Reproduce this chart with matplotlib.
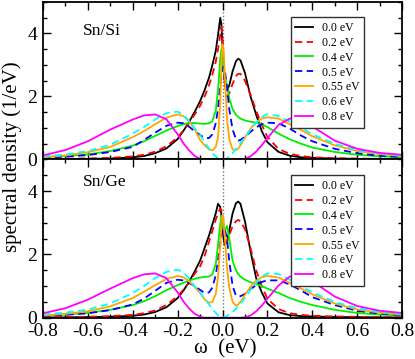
import matplotlib
matplotlib.use("Agg")
import matplotlib.pyplot as plt
from matplotlib.ticker import MultipleLocator

plt.rcParams['font.family'] = ['Liberation Serif', 'DejaVu Serif']
plt.rcParams['axes.unicode_minus'] = False

# shared energy grid (eV)
omega = [-0.8, -0.7, -0.6, -0.5, -0.4, -0.35, -0.3, -0.25, -0.2, -0.175, -0.15, -0.125,
         -0.1, -0.08, -0.06, -0.045, -0.03, -0.02, -0.01, -0.005, 0.0, 0.005, 0.01, 0.02,
         0.03, 0.045, 0.06, 0.07, 0.08, 0.1, 0.125, 0.15, 0.175, 0.2, 0.25, 0.3, 0.35,
         0.4, 0.5, 0.6, 0.7, 0.8]

labels = ["0.0 eV", "0.2 eV", "0.4 eV", "0.5 eV", "0.55 eV", "0.6 eV", "0.8 eV"]

# Sn/Si panel
si_00 = [0.01, 0.015, 0.02, 0.03, 0.07, 0.11, 0.2, 0.35, 0.65, 0.9, 1.18, 1.5,
         1.85, 2.2, 2.6, 3.0, 3.45, 3.95, 4.5, 4.3, 3.6, 2.9, 2.45, 2.2,
         2.35, 2.8, 3.12, 3.2, 3.15, 2.75, 2.0, 1.42, 0.9, 0.55, 0.24, 0.12, 0.07,
         0.05, 0.03, 0.02, 0.015, 0.01]
si_02 = [0.02, 0.025, 0.035, 0.05, 0.1, 0.15, 0.25, 0.42, 0.7, 0.92, 1.15, 1.42,
         1.7, 2.0, 2.35, 2.7, 3.1, 3.5, 3.95, 4.2, 3.9, 3.0, 2.4, 2.0,
         2.1, 2.4, 2.65, 2.72, 2.72, 2.5, 2.05, 1.55, 1.1, 0.72, 0.33, 0.18, 0.11,
         0.07, 0.04, 0.03, 0.02, 0.015]
si_04 = [0.08, 0.11, 0.16, 0.27, 0.44, 0.58, 0.75, 0.92, 1.06, 1.12, 1.15, 1.16,
         1.14, 1.13, 1.15, 1.22, 1.55, 2.2, 3.2, 3.5, 3.2, 2.8, 2.65, 2.35,
         1.95, 1.6, 1.42, 1.35, 1.3, 1.24, 1.2, 1.17, 1.12, 1.03, 0.82, 0.64, 0.5,
         0.38, 0.24, 0.15, 0.1, 0.07]
si_05 = [0.06, 0.09, 0.14, 0.24, 0.4, 0.62, 0.85, 1.07, 1.17, 1.15, 1.05, 0.9,
         0.78, 0.68, 0.68, 0.8, 1.15, 1.6, 2.3, 2.7, 2.9, 2.95, 2.85, 2.3,
         1.6, 0.95, 0.65, 0.6, 0.62, 0.72, 0.88, 1.02, 1.12, 1.17, 1.15, 0.98, 0.76,
         0.58, 0.34, 0.2, 0.12, 0.08]
si_055 = [0.07, 0.13, 0.23, 0.4, 0.71, 0.9, 1.12, 1.33, 1.43, 1.38, 1.22, 0.98,
          0.62, 0.45, 0.32, 0.29, 0.4, 0.7, 1.8, 3.0, 3.65, 3.5, 2.7, 1.3,
          0.65, 0.32, 0.3, 0.35, 0.45, 0.7, 0.98, 1.18, 1.3, 1.34, 1.3, 1.12, 0.94,
          0.74, 0.45, 0.27, 0.17, 0.11]
si_06 = [0.1, 0.16, 0.27, 0.47, 0.82, 1.03, 1.27, 1.47, 1.52, 1.42, 1.22, 1.0,
         0.78, 0.55, 0.35, 0.2, 0.1, 0.04, 0.01, 0.0, 0.0, 0.0, 0.01, 0.04,
         0.1, 0.2, 0.33, 0.42, 0.52, 0.7, 0.95, 1.17, 1.35, 1.44, 1.38, 1.2, 1.02,
         0.8, 0.5, 0.3, 0.19, 0.12]
si_08 = [0.13, 0.3, 0.58, 0.95, 1.27, 1.4, 1.43, 1.28, 0.8, 0.52, 0.3, 0.12,
         0.02, 0.0, 0.0, 0.0, 0.0, 0.0, 0.0, 0.0, 0.0, 0.0, 0.0, 0.0,
         0.0, 0.0, 0.0, 0.0, 0.0, 0.02, 0.1, 0.25, 0.45, 0.68, 1.1, 1.3, 1.28,
         1.05, 0.6, 0.34, 0.21, 0.15]

# Sn/Ge panel
ge_00 = [0.01, 0.01, 0.02, 0.03, 0.06, 0.1, 0.18, 0.33, 0.62, 0.85, 1.12, 1.45,
         1.8, 2.2, 2.6, 2.95, 3.3, 3.6, 3.5, 3.25, 2.9, 2.5, 2.3, 2.4,
         2.75, 3.3, 3.62, 3.67, 3.6, 3.05, 2.1, 1.25, 0.8, 0.45, 0.17, 0.08, 0.05,
         0.04, 0.02, 0.02, 0.01, 0.01]
ge_02 = [0.02, 0.02, 0.03, 0.05, 0.09, 0.14, 0.23, 0.4, 0.68, 0.88, 1.1, 1.38,
         1.62, 1.95, 2.4, 2.75, 3.1, 3.3, 3.45, 3.4, 3.1, 2.7, 2.45, 2.4,
         2.6, 2.9, 3.05, 3.09, 3.05, 2.8, 2.2, 1.5, 1.0, 0.6, 0.27, 0.14, 0.09,
         0.06, 0.04, 0.03, 0.02, 0.02]
ge_04 = [0.07, 0.1, 0.15, 0.25, 0.4, 0.52, 0.68, 0.87, 1.03, 1.1, 1.17, 1.23,
         1.27, 1.29, 1.3, 1.38, 1.7, 2.3, 2.95, 3.2, 3.0, 2.75, 2.75, 2.9,
         2.5, 1.8, 1.5, 1.38, 1.3, 1.2, 1.12, 1.06, 1.0, 0.92, 0.78, 0.62, 0.5,
         0.4, 0.25, 0.15, 0.1, 0.07]
ge_05 = [0.06, 0.09, 0.14, 0.24, 0.42, 0.6, 0.85, 1.1, 1.2, 1.18, 1.1, 1.0,
         0.88, 0.78, 0.8, 0.95, 1.35, 1.8, 2.35, 2.6, 2.75, 2.83, 2.8, 2.5,
         1.8, 1.0, 0.7, 0.67, 0.68, 0.75, 0.9, 1.03, 1.13, 1.18, 1.18, 1.05, 0.86,
         0.65, 0.4, 0.22, 0.13, 0.09]
ge_055 = [0.07, 0.12, 0.2, 0.36, 0.62, 0.82, 1.03, 1.22, 1.32, 1.28, 1.16, 0.98,
          0.78, 0.58, 0.47, 0.5, 0.75, 1.3, 2.3, 2.9, 3.25, 3.1, 2.6, 1.6,
          0.95, 0.5, 0.38, 0.42, 0.5, 0.72, 0.98, 1.17, 1.28, 1.32, 1.27, 1.1, 0.92,
          0.74, 0.45, 0.26, 0.16, 0.1]
ge_06 = [0.1, 0.16, 0.26, 0.45, 0.78, 1.0, 1.25, 1.45, 1.52, 1.43, 1.25, 1.0,
         0.8, 0.6, 0.42, 0.28, 0.15, 0.08, 0.03, 0.01, 0.0, 0.01, 0.02, 0.06,
         0.11, 0.18, 0.28, 0.36, 0.44, 0.62, 0.88, 1.1, 1.3, 1.4, 1.38, 1.2, 1.0,
         0.8, 0.5, 0.3, 0.18, 0.12]
ge_08 = [0.14, 0.3, 0.57, 0.92, 1.25, 1.37, 1.4, 1.25, 0.8, 0.52, 0.3, 0.13,
         0.03, 0.0, 0.0, 0.0, 0.0, 0.0, 0.0, 0.0, 0.0, 0.0, 0.0, 0.0,
         0.0, 0.0, 0.0, 0.0, 0.0, 0.01, 0.07, 0.2, 0.38, 0.6, 1.02, 1.3, 1.33,
         1.15, 0.67, 0.37, 0.22, 0.15]

si_curves = [si_00, si_02, si_04, si_05, si_055, si_06, si_08]
ge_curves = [ge_00, ge_02, ge_04, ge_05, ge_055, ge_06, ge_08]

colors = ["#000000", "#ff0000", "#00ee00", "#0000ff", "#ffa500", "#00ffff", "#ff00ff"]
dashed = [False, True, False, True, False, True, False]

fig = plt.figure(figsize=(4.15, 3.59), dpi=100)
left, right = 43 / 415, 402 / 415
ax1 = fig.add_axes([left, 1 - 159.5 / 359, right - left, (159.5 - 2) / 359])
ax2 = fig.add_axes([left, 1 - 317.7 / 359, right - left, (317.7 - 159.5) / 359])

for ax, curves, name, ty, ly in [(ax1, si_curves, "Sn/Si", 0.815, 0.905),
                                 (ax2, ge_curves, "Sn/Ge", 0.855, 0.902)]:
    ax.axvline(0.0, color="#777777", lw=1.0, ls=(0, (1, 1.5)), zorder=1)
    for ys, c, d, lab in zip(curves, colors, dashed, labels):
        ls = (0, (4, 2.5)) if d else "-"
        ax.plot(omega, ys, color=c, lw=1.3, ls=ls, label=lab, zorder=2)
    ax.set_xlim(-0.8, 0.8)
    ax.set_ylim(0, 5)
    ax.xaxis.set_major_locator(MultipleLocator(0.2))
    ax.xaxis.set_minor_locator(MultipleLocator(0.1))
    ax.yaxis.set_major_locator(MultipleLocator(2))
    ax.yaxis.set_minor_locator(MultipleLocator(0.5))
    ax.tick_params(which="both", direction="in", top=True, right=True, width=1.0,
                   labelsize=14, pad=4)
    ax.tick_params(which="major", length=6)
    ax.tick_params(which="minor", length=3)
    for s in ax.spines.values():
        s.set_linewidth(1.3)
    ax.text(0.111, ty, name, transform=ax.transAxes, fontsize=12.5, va="center", ha="left")
    leg = ax.legend(loc="upper left", bbox_to_anchor=(0.69, ly), fontsize=8.5,
                    handlelength=1.5, labelspacing=0.25, borderpad=0.4,
                    handletextpad=0.75, fancybox=False, framealpha=1, edgecolor="#333333",
                    borderaxespad=0)
    leg.get_frame().set_linewidth(1.0)

ax1.tick_params(labelbottom=False)
ax2.set_xticks([-0.8, -0.6, -0.4, -0.2, 0.0, 0.2, 0.4, 0.6, 0.8])
ax2.set_xticklabels(["-0.8", "-0.6", "-0.4", "-0.2", "0.0", "0.2", "0.4", "0.6", "0.8"])

fig.text(12 / 415, 1 - 157 / 359, "spectral density (1/eV)", rotation=90,
         va="center", ha="center", fontsize=15)
fig.text(225 / 415, 1 - 349 / 359, "ω  (eV)", va="center", ha="center", fontsize=15)

fig.savefig("out.png", dpi=100)
